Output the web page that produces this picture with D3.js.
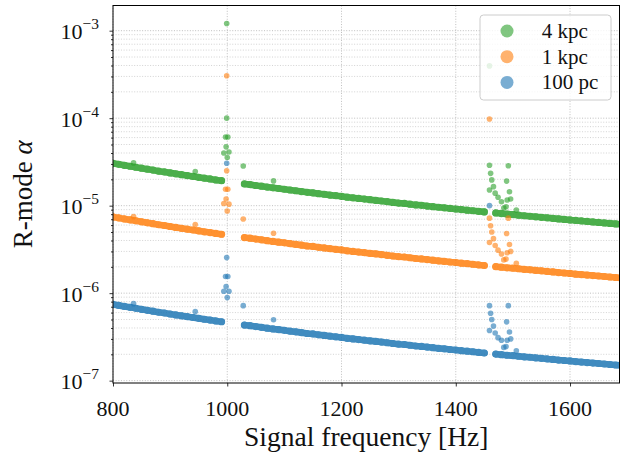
<!DOCTYPE html>
<html>
<head>
<meta charset="utf-8">
<script src="https://cdn.jsdelivr.net/npm/d3@7"></script>
<style>
  body { margin: 0; background: #fff; }
  svg { font-family: "Liberation Serif", "DejaVu Serif", serif; }
</style>
</head>
<body>
<svg id="chart" width="625" height="454"></svg>
<script>
// signal frequency grid [Hz] (band points, read every 10 Hz)
const freq = [
  800, 810, 820, 830, 840, 850, 860, 870, 880, 890, 900, 910, 920, 930, 940, 950, 960, 970, 980, 990,
  1030, 1040, 1050, 1060, 1070, 1080, 1090, 1100, 1110, 1120, 1130, 1140, 1150, 1160, 1170, 1180, 1190,
  1200, 1210, 1220, 1230, 1240, 1250, 1260, 1270, 1280, 1290, 1300, 1310, 1320, 1330, 1340, 1350, 1360,
  1370, 1380, 1390, 1400, 1410, 1420, 1430, 1440, 1450,
  1470, 1480, 1490, 1500, 1510, 1520, 1530, 1540, 1550, 1560, 1570, 1580, 1590, 1600, 1610, 1620, 1630,
  1640, 1650, 1660, 1670, 1680, 1690
];

// R-mode alpha, in units of 1e-6
const alpha4kpc = [
  30.5, 29.7, 28.9, 28.2, 27.5, 26.8, 26.1, 25.5, 24.8, 24.3, 23.7, 23.1, 22.6, 22.1, 21.6, 21.1, 20.6, 20.2, 19.7, 19.3,
  17.7, 17.4, 17.0, 16.7, 16.3, 16.0, 15.7, 15.4, 15.1, 14.8, 14.5, 14.2, 14.0, 13.7, 13.5, 13.2, 13.0,
  12.8, 12.5, 12.3, 12.1, 11.9, 11.7, 11.5, 11.3, 11.1, 10.9, 10.7, 10.6, 10.4, 10.2, 10.1, 9.90, 9.74,
  9.59, 9.45, 9.30, 9.16, 9.02, 8.88, 8.75, 8.62, 8.49,
  8.25, 8.13, 8.01, 7.90, 7.78, 7.67, 7.57, 7.46, 7.36, 7.26, 7.16, 7.06, 6.97, 6.87, 6.78, 6.69, 6.60,
  6.52, 6.43, 6.35, 6.27, 6.19, 6.11
];
const alpha1kpc = [
  7.44, 7.25, 7.05, 6.88, 6.71, 6.54, 6.37, 6.22, 6.05, 5.93, 5.78, 5.64, 5.51, 5.39, 5.27, 5.15, 5.03, 4.93, 4.81, 4.71,
  4.32, 4.25, 4.15, 4.07, 3.98, 3.90, 3.83, 3.76, 3.68, 3.61, 3.54, 3.46, 3.42, 3.34, 3.29, 3.22, 3.17,
  3.12, 3.05, 3.00, 2.95, 2.90, 2.85, 2.81, 2.76, 2.71, 2.66, 2.61, 2.59, 2.54, 2.49, 2.46, 2.42, 2.38,
  2.34, 2.31, 2.27, 2.24, 2.20, 2.17, 2.14, 2.10, 2.07,
  2.01, 1.98, 1.95, 1.93, 1.90, 1.87, 1.85, 1.82, 1.80, 1.77, 1.75, 1.72, 1.70, 1.68, 1.65, 1.63, 1.61,
  1.59, 1.57, 1.55, 1.53, 1.51, 1.49
];
const alpha100pc = [
  0.744, 0.725, 0.705, 0.688, 0.671, 0.654, 0.637, 0.622, 0.605, 0.593, 0.578, 0.564, 0.551, 0.539, 0.527, 0.515, 0.503, 0.493, 0.481, 0.471,
  0.432, 0.425, 0.415, 0.407, 0.398, 0.390, 0.383, 0.376, 0.368, 0.361, 0.354, 0.346, 0.342, 0.334, 0.329, 0.322, 0.317,
  0.312, 0.305, 0.300, 0.295, 0.290, 0.285, 0.281, 0.276, 0.271, 0.266, 0.261, 0.259, 0.254, 0.249, 0.246, 0.242, 0.238,
  0.234, 0.231, 0.227, 0.224, 0.220, 0.217, 0.214, 0.210, 0.207,
  0.201, 0.198, 0.195, 0.193, 0.190, 0.187, 0.185, 0.182, 0.180, 0.177, 0.175, 0.172, 0.170, 0.168, 0.165, 0.163, 0.161,
  0.159, 0.157, 0.155, 0.153, 0.151, 0.149
];

// scattered points off the bands: [frequency, alpha x 1e-6]
const stray4kpc = [
  [999, 1210], [999, 100], [997, 61], [1001, 61], [998, 47], [994, 40], [1003, 41], [1000, 35.5], [1028, 28.4],
  [836, 30.8], [944, 24.5], [1081, 19.2],
  [1459, 396], [1459, 29.0], [1492, 28.6], [1461, 23.4], [1463, 19.7], [1466, 16.5], [1459, 15.1], [1469, 13.9],
  [1480, 11.1], [1489, 19.1], [1494, 14.4], [1490, 11.6], [1496, 11.9], [1484, 9.4], [1488, 9.7], [1506, 8.9], [1474, 12.5]
];
const stray1kpc = [
  [999, 305], [999, 25.1], [997, 15.4], [1001, 15.4], [998, 11.9], [994, 10.6], [1003, 10.4], [1000, 8.7], [1028, 7.05],
  [836, 7.5], [944, 6.1], [1081, 4.84],
  [1459, 98], [1459, 7.2], [1492, 7.2], [1461, 5.9], [1463, 5.0], [1466, 4.2], [1459, 3.8], [1469, 3.5],
  [1480, 2.8], [1489, 4.8], [1494, 3.6], [1490, 2.9], [1496, 3.0], [1484, 2.4], [1488, 2.45], [1506, 2.2], [1474, 3.1]
];
const stray100pc = [
  [999, 30.5], [999, 2.55], [997, 1.55], [1001, 1.55], [998, 1.19], [994, 1.05], [1003, 1.05], [1000, 0.89], [1028, 0.72],
  [836, 0.76], [944, 0.618], [1081, 0.497],
  [1459, 10.0], [1459, 0.72], [1492, 0.72], [1461, 0.59], [1463, 0.50], [1466, 0.42], [1459, 0.375], [1469, 0.35],
  [1480, 0.29], [1489, 0.47], [1494, 0.36], [1490, 0.29], [1496, 0.30], [1484, 0.24], [1488, 0.245], [1506, 0.22], [1474, 0.31]
];

const labels = ["4 kpc", "1 kpc", "100 pc"];
const colors = ["#2ca02c", "#ff7f0e", "#1f77b4"];
const xTicks = [800, 1000, 1200, 1400, 1600];
const yExponents = [-7, -6, -5, -4, -3];

const series = [
  { name: labels[0], color: colors[0], band: alpha4kpc, stray: stray4kpc },
  { name: labels[1], color: colors[1], band: alpha1kpc, stray: stray1kpc },
  { name: labels[2], color: colors[2], band: alpha100pc, stray: stray100pc }
];

const W = 625, H = 454;
const margin = { top: 5.5, right: 5.5, bottom: 71, left: 113 };
const width = W - margin.left - margin.right, height = H - margin.top - margin.bottom;

const svg = d3.select("#chart");
const g = svg.append("g").attr("transform", `translate(${margin.left},${margin.top})`);

const x = d3.scaleLinear().domain([800, 1686.6]).range([0, width]);
const y = d3.scaleLog().domain([9.4e-8, 1.94e-3]).range([height, 0]);

svg.append("defs").append("clipPath").attr("id", "plotclip")
  .append("rect").attr("width", width).attr("height", height);

// grid
const minorY = y.ticks().filter(v => Math.abs(Math.log10(v) - Math.round(Math.log10(v))) > 1e-6);
g.append("g").selectAll("line").data(minorY).join("line")
  .attr("x1", 0).attr("x2", width).attr("y1", d => y(d)).attr("y2", d => y(d))
  .attr("stroke", "#c8c8c8").attr("stroke-width", 0.8).attr("stroke-dasharray", "1,1.65");
g.append("g").selectAll("line").data(yExponents).join("line")
  .attr("x1", 0).attr("x2", width).attr("y1", d => y(Math.pow(10, d))).attr("y2", d => y(Math.pow(10, d)))
  .attr("stroke", "#b0b0b0").attr("stroke-width", 0.8).attr("stroke-dasharray", "1,1.65");
g.append("g").selectAll("line").data(xTicks).join("line")
  .attr("x1", d => x(d)).attr("x2", d => x(d)).attr("y1", 0).attr("y2", height)
  .attr("stroke", "#b0b0b0").attr("stroke-width", 0.8).attr("stroke-dasharray", "1,1.65");

// points: dense bands (drawn as a run of overlapping markers) plus stray points
const plot = g.append("g").attr("clip-path", "url(#plotclip)");
const bandLine = d3.line()
  .defined((d, i, arr) => true)
  .x(d => x(d[0])).y(d => y(d[1] * 1e-6));
series.forEach(s => {
  const pts = s.band.map((v, i) => [freq[i], v]);
  // split the band where the frequency grid has a gap
  const segs = [];
  pts.forEach((p, i) => {
    if (i === 0 || p[0] - pts[i - 1][0] > 15) segs.push([]);
    segs[segs.length - 1].push(p);
  });
  const bg = plot.append("g").attr("opacity", 0.85);
  bg.selectAll("path").data(segs).join("path")
    .attr("d", bandLine).attr("fill", "none").attr("stroke", s.color)
    .attr("stroke-width", 6.6).attr("stroke-linecap", "round");
  bg.selectAll("circle").data(pts).join("circle")
    .attr("cx", d => x(d[0])).attr("cy", d => y(d[1] * 1e-6))
    .attr("r", 3.6).attr("fill", s.color);
  plot.append("g")
    .selectAll("circle").data(s.stray).join("circle")
    .attr("cx", d => x(d[0])).attr("cy", d => y(d[1] * 1e-6))
    .attr("r", 2.8).attr("fill", s.color).attr("fill-opacity", 0.6);
});

// axes
const xAxis = g.append("g").attr("transform", `translate(0,${height})`)
  .call(d3.axisBottom(x).tickValues(xTicks).tickSize(3.5).tickFormat(""));
const yAxisMinor = g.append("g").call(d3.axisLeft(y).tickValues(minorY).tickSize(2).tickFormat(""));
const yAxis = g.append("g").call(d3.axisLeft(y).tickValues(yExponents.map(e => Math.pow(10, e))).tickSize(3.5).tickFormat(""));
[xAxis, yAxis, yAxisMinor].forEach(a => {
  a.select(".domain").remove();
  a.selectAll(".tick line").attr("stroke", "#000").attr("stroke-width", 0.8);
});

g.append("g").selectAll("text").data(xTicks).join("text")
  .attr("x", d => x(d)).attr("y", height + 33)
  .attr("text-anchor", "middle").attr("font-size", 22).attr("fill", "#111")
  .text(d => d);

const yl = g.append("g").selectAll("text").data(yExponents).join("text")
  .attr("x", -14).attr("y", d => y(Math.pow(10, d)) + 8.5)
  .attr("text-anchor", "end").attr("fill", "#111");
yl.append("tspan").attr("font-size", 22).text("10");
yl.append("tspan").attr("font-size", 15.5).attr("dy", -10).text(d => "\u2212" + Math.abs(d));

// frame
g.append("rect").attr("width", width).attr("height", height)
  .attr("fill", "none").attr("stroke", "#000").attr("stroke-width", 1);

// axis labels
svg.append("text")
  .attr("x", margin.left + width / 2).attr("y", 446)
  .attr("text-anchor", "middle").attr("font-size", 27.5).attr("fill", "#111")
  .text("Signal frequency [Hz]");
const ylab = svg.append("text")
  .attr("transform", `translate(32,${margin.top + height / 2}) rotate(-90)`)
  .attr("text-anchor", "middle").attr("font-size", 27).attr("fill", "#111");
ylab.append("tspan").text("R-mode ");
ylab.append("tspan").attr("font-style", "italic").text("\u03b1");

// legend
const lg = svg.append("g").attr("transform", "translate(480,15)");
lg.append("rect").attr("width", 131).attr("height", 85).attr("rx", 3.5)
  .attr("fill", "#fff").attr("fill-opacity", 0.8).attr("stroke", "#cccccc").attr("stroke-width", 1);
series.forEach((s, i) => {
  const row = lg.append("g").attr("transform", `translate(0,${16 + i * 25.7})`);
  row.append("circle").attr("cx", 27).attr("cy", 0).attr("r", 6.5)
    .attr("fill", s.color).attr("fill-opacity", 0.6);
  row.append("text").attr("x", 61.7).attr("y", 7).attr("font-size", 21).attr("fill", "#111").text(s.name);
});
</script>
</body>
</html>
